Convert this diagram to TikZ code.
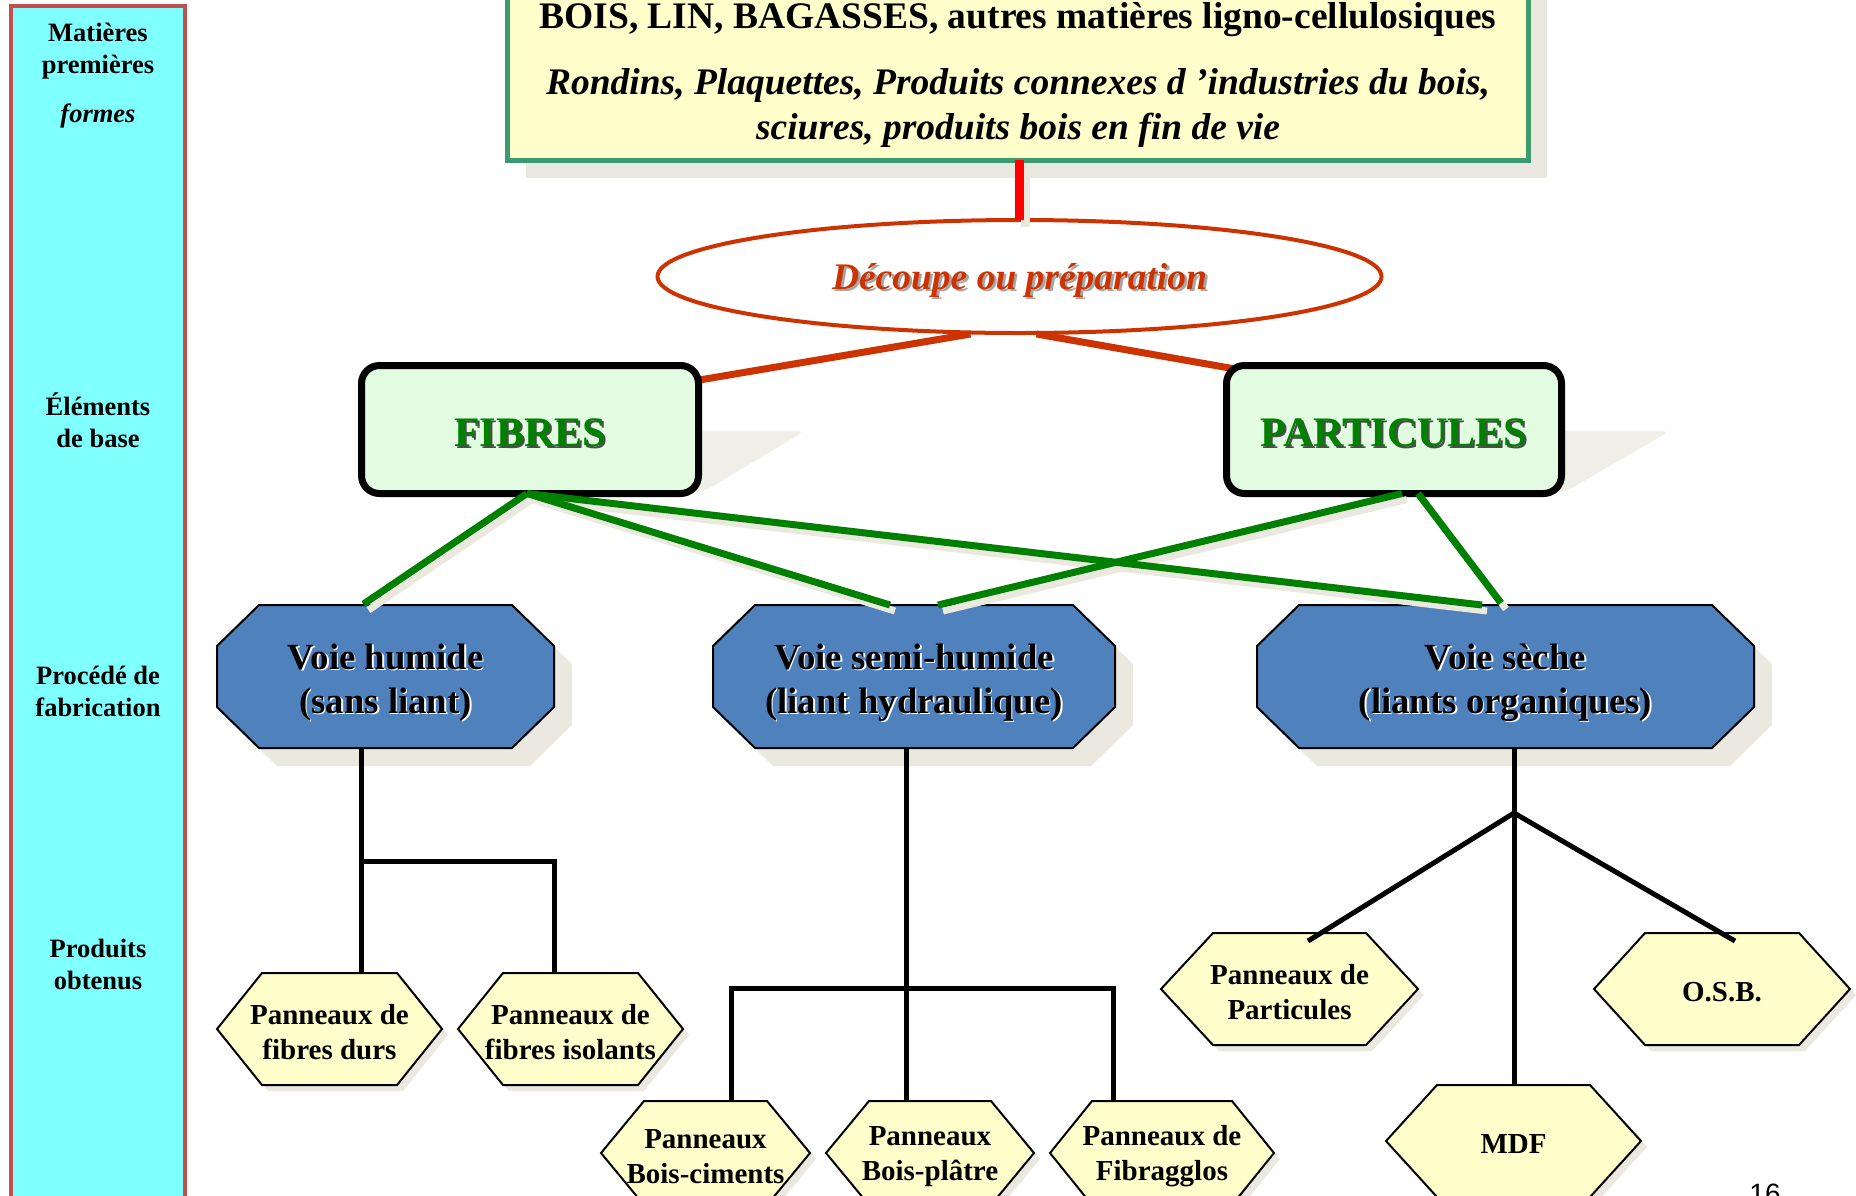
\documentclass[tikz,border=0pt]{standalone}
\usepackage{fontspec}
\setmainfont{Liberation Serif}
\newfontfamily\arialf{Liberation Sans}
\usetikzlibrary{shapes.geometric,shadows,calc}
\pgfdeclarelayer{bg}
\pgfsetlayers{bg,main}
\definecolor{colbg}{HTML}{80FFFF}
\definecolor{colbd}{HTML}{C0504D}
\definecolor{topfill}{HTML}{FFFFCC}
\definecolor{topbd}{HTML}{3C9B6E}
\definecolor{shd}{HTML}{EAE8DF}
\definecolor{orng}{HTML}{CC3300}
\definecolor{mint}{HTML}{E1FCE1}
\definecolor{grn}{HTML}{008000}
\definecolor{blu}{HTML}{4F81BD}
\definecolor{prodfill}{HTML}{FFFFCC}
\newcommand\sht[3]{\rlap{\hspace*{#1}\raisebox{-#1}[0pt][0pt]{\textcolor{#2}{#3}}}#3}
\newcommand\lowr[2]{\raisebox{-#1}[\height][\depth]{#2}}
\tikzset{
  lt/.style={align=center,inner sep=0pt,font=\bfseries\fontsize{13.25}{16}\selectfont},
  topt/.style={align=center,inner sep=0pt,font=\bfseries\fontsize{18.75}{22.5}\selectfont},
  octshape/.style={fill=blu,draw=black,line width=1pt},
  hexshape/.style={fill=prodfill,draw=black,line width=1pt},
  octtext/.style={align=center,inner sep=0pt,outer sep=0pt,font=\bfseries\fontsize{18.4}{22}\selectfont},
  prodtext/.style={align=center,inner sep=0pt,outer sep=0pt,font=\bfseries\fontsize{14.5}{17.5}\selectfont},
  shapebox/.style={inner sep=0pt,outer sep=0pt},
  bx/.style={draw=black,line width=3.5pt,rounded corners=9pt,fill=mint,minimum width=168.5pt,minimum height=64pt,inner sep=0pt,outer sep=0pt,text=grn,font=\bfseries\fontsize{21}{25}\selectfont},
  blk/.style={black,line width=2.5pt},
  gl/.style={grn,line width=3.5pt},
  gls/.style={shd,line width=3.5pt,transform canvas={xshift=2.5pt,yshift=-3pt}},
  orl/.style={orng,line width=3.5pt},
}
\newcommand\octa[8]{%
  \fill[shd,shift={(#2+18,#3+18)}] (-#4,-#5+#7) -- (-#4+#6,-#5) -- (#4-#6,-#5) -- (#4,-#5+#7) -- (#4,#5-#7) -- (#4-#6,#5) -- (-#4+#6,#5) -- (-#4,#5-#7) -- cycle;
  \filldraw[octshape,shift={(#2,#3)}] (-#4,-#5+#7) -- (-#4+#6,-#5) -- (#4-#6,-#5) -- (#4,-#5+#7) -- (#4,#5-#7) -- (#4-#6,#5) -- (-#4+#6,#5) -- (-#4,#5-#7) -- cycle;
  \node[shapebox,minimum width=#4pt,minimum height=#5pt] (#1) at (#2,#3) {};
  \node[octtext] (#1t) at (#2,#3+6) {#8};
}
\newcommand\hexa[7]{%
  \fill[shd,shift={(#2+6,#3+6)}] (-#4,0) -- (-#4+#6,-#5) -- (#4-#6,-#5) -- (#4,0) -- (#4-#6,#5) -- (-#4+#6,#5) -- cycle;
  \filldraw[hexshape,shift={(#2,#3)}] (-#4,0) -- (-#4+#6,-#5) -- (#4-#6,-#5) -- (#4,0) -- (#4-#6,#5) -- (-#4+#6,#5) -- cycle;
  \node[shapebox,minimum width=#4pt,minimum height=#5pt] (#1) at (#2,#3) {};
  \node[prodtext] (#1t) at (#2,#3+3.5) {#7};
}
\begin{document}
\begin{tikzpicture}[x=0.5pt,y=-0.5pt]
\useasboundingbox (0,0) rectangle (1856,1195);
% left column
\begin{pgfonlayer}{bg}
\filldraw[fill=colbg,draw=colbd,line width=2pt] (11,6) rectangle (185,1260);
\end{pgfonlayer}
\node[lt] (l1) at (98,51.5) {Matières\\premières};
\node[lt,font=\bfseries\itshape\fontsize{13.25}{16}\selectfont] (l2) at (98,115.5) {formes};
\node[lt] (l3) at (98,420) {Éléments\\de base};
\node[lt] (l4) at (98,691) {Procédé de\\fabrication};
\node[lt] (l5) at (98,964) {Produits\\obtenus};
% top box
\node[draw=topbd,fill=topfill,line width=2.5pt,minimum width=510.5pt,minimum height=100pt,inner sep=0pt,outer sep=0pt,
  drop shadow={shadow xshift=9pt,shadow yshift=-9pt,fill=shd,opacity=1}] (top) at (1018,60) {};
\node[topt] (t1) at (1018,20) {BOIS, LIN, BAGASSES, autres matières ligno-cellulosiques};
\node[topt,font=\bfseries\itshape\fontsize{18.75}{22.5}\selectfont] (t2) at (1018,108) {Rondins, Plaquettes, Produits connexes d ’industries du bois,\\sciures, produits bois en fin de vie};
% ellipse
\node[ellipse,draw=orng,line width=2pt,minimum width=362pt,minimum height=56.5pt,inner sep=0pt,outer sep=0pt,text=orng,
  font=\bfseries\itshape\fontsize{18.75}{22}\selectfont] (ell) at (1019.5,276.5) {\lowr{1.8pt}{\sht{1.3pt}{black!35}{Découpe ou préparation}}};
\draw[shd,line width=4.5pt] ($(ell.north |- top.south)+(6,4)$) -- ($(ell.north)+(6,7)$);
\draw[red,line width=4.5pt] (ell.north |- top.south) -- (ell.north);
% perspective shadows of boxes
\fill[shd!75,rounded corners=4pt] (373,490) -- (452,431) -- (805,431) -- (703,492) -- cycle;
\fill[shd!75,rounded corners=4pt] (1240,490) -- (1313,431) -- (1670,431) -- (1565,492) -- cycle;
% boxes
\node[bx] (fib) at (530,429.5) {\lowr{1.6pt}{\sht{1pt}{black!70}{FIBRES}}};
\node[bx,minimum width=167.5pt] (par) at (1394,429.5) {\lowr{1.6pt}{\sht{1pt}{black!70}{PARTICULES}}};
\begin{pgfonlayer}{bg}
\draw[orl] ([shift={(-49,1)}]ell.south) -- ([shift={(-2,15)}]fib.north east);
\draw[orl] ([shift={(17,1)}]ell.south) -- ([shift={(6,3)}]par.north west);
\end{pgfonlayer}
% process octagons
\octa{hum}{385.5}{676.5}{168.5}{71.5}{42}{41}{\sht{0.8pt}{white}{Voie humide}\\\sht{0.8pt}{white}{(sans liant)}}
\octa{semi}{914}{676.5}{201}{71.5}{42}{41}{\sht{0.8pt}{white}{Voie semi-humide}\\\sht{0.8pt}{white}{(liant hydraulique)}}
\octa{sec}{1505.5}{676.5}{248.5}{71.5}{42}{41}{\sht{0.8pt}{white}{Voie sèche}\\\sht{0.8pt}{white}{(liants organiques)}}
% products
\hexa{dur}{329.5}{1029}{112.5}{56}{45}{Panneaux de\\fibres durs}
\hexa{iso}{570.5}{1029}{112.5}{56}{45}{Panneaux de\\fibres isolants}
\hexa{cim}{705.5}{1153}{104.5}{52}{43}{Panneaux\\Bois-ciments}
\hexa{plt}{930}{1153}{104}{52}{43}{Panneaux\\Bois-plâtre}
\hexa{fag}{1162}{1153}{112}{52}{42}{Panneaux de\\Fibragglos}
\hexa{pp}{1289.5}{989}{128.5}{56}{52}{Panneaux de\\Particules}
\hexa{osb}{1722}{989}{128}{56}{51}{O.S.B.}
\hexa{mdf}{1513.5}{1141}{127.5}{56}{51}{MDF}
% black connectors
\coordinate (hj) at (361,861);
\coordinate (hj2) at (554,861);
\draw[blk] (hum.south -| hj) -- (dur.north -| hj);
\draw[blk] (hj) -- (hj2) -- (iso.north -| hj2);
\coordinate (sL) at (731,988);
\coordinate (sC) at (906,988);
\coordinate (sR) at (1113,988);
\draw[blk] (semi.south -| sC) -- (plt.north -| sC);
\draw[blk] (cim.north -| sL) -- (sL) -- (sR) -- (fag.north -| sR);
\coordinate (dj) at (1514,813);
\draw[blk] (sec.south -| dj) -- (mdf.north -| dj);
\draw[blk] ([shift={(18.5,8)}]pp.north) -- (dj) -- ([shift={(13,8)}]osb.north);
% green connectors
\draw[gls] ([shift={(-3,0)}]fib.south) -- ([shift={(-22,-1)}]hum.north);
\draw[gls] ([shift={(-3,0)}]fib.south) -- ([shift={(-24,0)}]semi.north);
\draw[gls] ([shift={(-3,0)}]fib.south) -- ([shift={(-23.5,0)}]sec.north);
\draw[gls] ([shift={(8,0)}]par.south) -- ([shift={(24,0)}]semi.north);
\draw[gls] ([shift={(24,0)}]par.south) -- ([shift={(-4.5,-2)}]sec.north);
\draw[gl] ([shift={(-3,0)}]fib.south) -- ([shift={(-22,-1)}]hum.north);
\draw[gl] ([shift={(-3,0)}]fib.south) -- ([shift={(-24,0)}]semi.north);
\draw[gl] ([shift={(-3,0)}]fib.south) -- ([shift={(-23.5,0)}]sec.north);
\draw[gl] ([shift={(8,0)}]par.south) -- ([shift={(24,0)}]semi.north);
\draw[gl] ([shift={(24,0)}]par.south) -- ([shift={(-4.5,-2)}]sec.north);
% page number
\node[anchor=base,inner sep=0pt,font=\arialf\fontsize{14}{16}\selectfont] (pg) at (1765,1203) {16};
\end{tikzpicture}
\end{document}
